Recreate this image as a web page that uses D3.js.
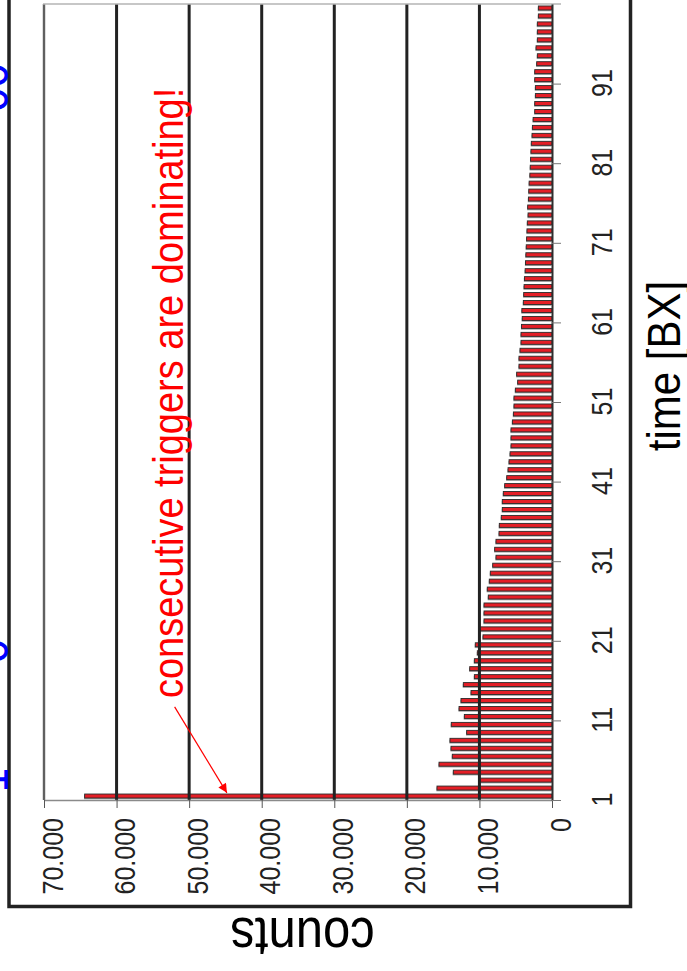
<!DOCTYPE html>
<html>
<head>
<meta charset="utf-8">
<script src="https://cdn.jsdelivr.net/npm/d3@7"></script>
<style>
  html, body { margin: 0; padding: 0; background: #fff; }
  svg { display: block; }
  text { font-family: "Liberation Sans", Arial, Helvetica, sans-serif; }
</style>
</head>
<body>
<svg id="chart" width="687" height="971"></svg>
<script>
// Counts per bunch crossing after the trigger, bins 1..100
const counts = [
  64400, 15850, 10020, 13600, 15570, 13740, 13920, 14060, 11760, 13880,
  12080, 12810, 12540, 11160, 12220, 10700, 11340, 10700, 10290, 10570,
  9510, 9920, 9370, 9370, 9370, 8780, 8920, 8640, 8500, 8170,
  7720, 7900, 7720, 7300, 7260, 6990, 6850, 6850, 6710, 6520,
  6240, 6060, 5920, 5780, 5650, 5650, 5650, 5460, 5320, 5240,
  5240, 5050, 4730, 4870, 4550, 4550, 4410, 4270, 4270, 4200,
  4100, 4150, 3950, 3900, 3850, 3800, 3700, 3650, 3600, 3550,
  3500, 3450, 3400, 3300, 3350, 3250, 3200, 3150, 3050, 3000,
  2950, 2900, 2850, 2750, 2700, 2600, 2380, 2380, 2290, 2290,
  2380, 2380, 2110, 2020, 2200, 2020, 2020, 2020, 1880, 1880
];
const firstBin = 1;
const bins = counts.map((_, i) => firstBin + i);

const timeTicks = [1, 11, 21, 31, 41, 51, 61, 71, 81, 91];
const countTicks = [0, 10000, 20000, 30000, 40000, 50000, 60000, 70000];

const timeLabel = "time [BX]";
const countLabel = "counts";
const noteText = "consecutive triggers are dominating!";
const noteAt = [50800, 13.8];       // [counts, BX] where the note starts
const arrowFrom = [52000, 12.7];
const arrowTo = [44800, 1.9];

// The page shows the histogram turned a quarter turn: counts run leftwards,
// time runs upwards.
const svg = d3.select("#chart");
const x = d3.scaleLinear().domain([0, 70000]).range([552, 44]);
const y = d3.scaleLinear().domain([1, 101]).range([800, 4]);

const fmt = d3.formatLocale({ decimal: ",", thousands: ".", grouping: [3], currency: ["", ""] }).format(",");
const NUM_STRETCH = 1.2, LABEL_STRETCH = 1.12;

// outer frame
const frame = svg.append("g").attr("stroke", "#222").attr("stroke-width", 3.5).attr("fill", "none");
frame.append("path").attr("d", "M9,0 V906.5 H630.5 V0");

// clipped labels at the left page edge
const edge = svg.append("g").attr("fill", "#0000ff").attr("font-size", 44);
[["00", 87.5], ["0", 651], ["1", 780]].forEach(([t, py]) => {
  edge.append("text")
    .attr("transform", `translate(8,${py}) rotate(-90) scale(1,${LABEL_STRETCH})`)
    .attr("text-anchor", "middle")
    .text(t);
});

// bars
const barG = svg.append("g");
const bar = barG.selectAll("g").data(bins).join("g");
bar.append("rect")
  .attr("x", (d, i) => x(counts[i]) - 0.6)
  .attr("y", d => y(d + 0.75) + 1.3)
  .attr("width", (d, i) => x(0) - x(counts[i]))
  .attr("height", d => y(d + 0.25) - y(d + 0.75))
  .attr("fill", "#a0a0a0");
bar.append("rect")
  .attr("x", (d, i) => x(counts[i]))
  .attr("y", d => y(d + 0.75))
  .attr("width", (d, i) => x(0) - x(counts[i]))
  .attr("height", d => y(d + 0.25) - y(d + 0.75))
  .attr("fill", "#e41e26")
  .attr("stroke", "#2a2a2a")
  .attr("stroke-width", 0.9);

// grid lines
svg.append("g").selectAll("line")
  .data(countTicks.filter(v => v > 0 && v < 70000))
  .join("line")
  .attr("x1", d => x(d)).attr("x2", d => x(d))
  .attr("y1", y(101)).attr("y2", y(1))
  .attr("stroke", "#222").attr("stroke-width", 3);

// plot border: left and top
svg.append("line").attr("x1", x(70000)).attr("x2", x(70000)).attr("y1", y(101)).attr("y2", y(1))
  .attr("stroke", "#bbb").attr("stroke-width", 3);
svg.append("line").attr("x1", x(70000)).attr("x2", x(70000)).attr("y1", y(101)).attr("y2", y(1))
  .attr("stroke", "#3a3a3a").attr("stroke-width", 1.4);
svg.append("line").attr("x1", x(70000) - 1).attr("x2", x(0) + 9).attr("y1", y(101)).attr("y2", y(101))
  .attr("stroke", "#b5b5b5").attr("stroke-width", 1.6);

// counts axis along the bottom
const countAxis = svg.append("g")
  .attr("transform", `translate(0,${y(1)})`)
  .call(d3.axisBottom(x).tickValues(countTicks).tickFormat(fmt).tickSize(8).tickSizeOuter(0));
countAxis.select(".domain").attr("stroke", "#8a8a8a").attr("stroke-width", 1.6);
countAxis.selectAll(".tick line").attr("stroke", "#555").attr("stroke-width", 1);
countAxis.selectAll(".tick text")
  .attr("x", null).attr("y", null).attr("dy", null)
  .attr("transform", `translate(18,18) rotate(-90) scale(1,${NUM_STRETCH})`)
  .attr("text-anchor", "end")
  .attr("font-size", 25)
  .attr("font-family", null)
  .attr("fill", "#222");

// time axis on the right
const timeAxis = svg.append("g")
  .attr("transform", `translate(${x(0)},0)`)
  .call(d3.axisRight(y).tickValues(timeTicks).tickFormat(d3.format("d")).tickSize(9).tickSizeOuter(0));
timeAxis.select(".domain").attr("stroke", "#2e2e2e").attr("stroke-width", 2);
timeAxis.selectAll(".tick line").attr("stroke", "#777").attr("stroke-width", 1);
timeAxis.selectAll(".tick text")
  .attr("x", null).attr("y", null).attr("dy", null)
  .attr("transform", `translate(59.5,-1) rotate(-90) scale(1,${NUM_STRETCH})`)
  .attr("text-anchor", "middle")
  .attr("font-size", 25)
  .attr("font-family", null)
  .attr("fill", "#222");

// axis titles
svg.append("text")
  .attr("transform", `translate(680,366) rotate(-90) scale(1,${LABEL_STRETCH})`)
  .attr("text-anchor", "middle")
  .attr("font-size", 42)
  .attr("fill", "#000")
  .text(timeLabel);
svg.append("text")
  .attr("transform", `translate(302.5,918) rotate(180) scale(1,${LABEL_STRETCH})`)
  .attr("text-anchor", "middle")
  .attr("font-size", 49)
  .attr("fill", "#000")
  .text(countLabel);

// annotation
svg.append("defs").append("marker")
  .attr("id", "arrowhead")
  .attr("viewBox", "0 0 10 10")
  .attr("refX", 10).attr("refY", 5)
  .attr("markerWidth", 14).attr("markerHeight", 9)
  .attr("markerUnits", "userSpaceOnUse")
  .attr("orient", "auto")
  .append("path").attr("d", "M0,0 L10,5 L0,10 Z").attr("fill", "#ff0000");
svg.append("line")
  .attr("x1", x(arrowFrom[0])).attr("y1", y(arrowFrom[1]))
  .attr("x2", x(arrowTo[0])).attr("y2", y(arrowTo[1]))
  .attr("stroke", "#ff0000").attr("stroke-width", 1.2)
  .attr("marker-end", "url(#arrowhead)");
svg.append("text")
  .attr("transform", `translate(${x(noteAt[0])},${y(noteAt[1])}) rotate(-90) scale(1,1.1)`)
  .attr("text-anchor", "start")
  .attr("font-size", 38)
  .attr("fill", "#ff0000")
  .text(noteText);
</script>
</body>
</html>
